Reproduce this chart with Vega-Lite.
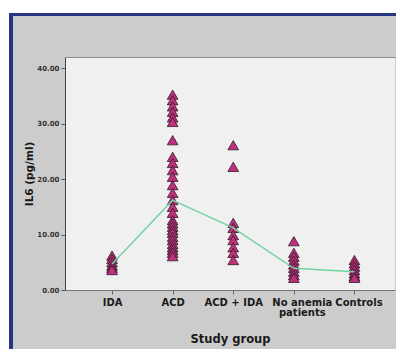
{
  "$schema": "https://vega.github.io/schema/vega-lite/v6.json",
  "background": "#cccccc",
  "padding": 0,
  "spacing": 0,
  "config": {
    "view": {"stroke": null},
    "font": "DejaVu Sans"
  },
  "datasets": {
    "points": [
      {"group": "IDA", "il6": 6.2}, {"group": "IDA", "il6": 5.6}, {"group": "IDA", "il6": 5.0}, {"group": "IDA", "il6": 4.4}, {"group": "IDA", "il6": 4.0}, {"group": "IDA", "il6": 3.6},
      {"group": "ACD", "il6": 35.2}, {"group": "ACD", "il6": 34.2}, {"group": "ACD", "il6": 33.1}, {"group": "ACD", "il6": 32.1}, {"group": "ACD", "il6": 31.1}, {"group": "ACD", "il6": 30.3},
      {"group": "ACD", "il6": 27.0}, {"group": "ACD", "il6": 24.0}, {"group": "ACD", "il6": 22.9}, {"group": "ACD", "il6": 21.6}, {"group": "ACD", "il6": 20.4}, {"group": "ACD", "il6": 18.9},
      {"group": "ACD", "il6": 17.5}, {"group": "ACD", "il6": 16.2}, {"group": "ACD", "il6": 15.0}, {"group": "ACD", "il6": 13.9}, {"group": "ACD", "il6": 12.6}, {"group": "ACD", "il6": 12.0},
      {"group": "ACD", "il6": 11.4}, {"group": "ACD", "il6": 10.8}, {"group": "ACD", "il6": 10.3}, {"group": "ACD", "il6": 9.6}, {"group": "ACD", "il6": 9.0}, {"group": "ACD", "il6": 8.3},
      {"group": "ACD", "il6": 7.7}, {"group": "ACD", "il6": 7.2}, {"group": "ACD", "il6": 6.7}, {"group": "ACD", "il6": 6.1},
      {"group": "ACD + IDA", "il6": 26.1}, {"group": "ACD + IDA", "il6": 22.2}, {"group": "ACD + IDA", "il6": 12.1}, {"group": "ACD + IDA", "il6": 11.2}, {"group": "ACD + IDA", "il6": 9.9},
      {"group": "ACD + IDA", "il6": 9.0}, {"group": "ACD + IDA", "il6": 7.7}, {"group": "ACD + IDA", "il6": 6.7}, {"group": "ACD + IDA", "il6": 5.4},
      {"group": "No anemia patients", "il6": 8.8}, {"group": "No anemia patients", "il6": 6.7}, {"group": "No anemia patients", "il6": 6.0}, {"group": "No anemia patients", "il6": 5.3},
      {"group": "No anemia patients", "il6": 4.6}, {"group": "No anemia patients", "il6": 4.0}, {"group": "No anemia patients", "il6": 3.3}, {"group": "No anemia patients", "il6": 2.7},
      {"group": "No anemia patients", "il6": 2.2},
      {"group": "Controls", "il6": 5.4}, {"group": "Controls", "il6": 4.8}, {"group": "Controls", "il6": 4.2}, {"group": "Controls", "il6": 3.6},
      {"group": "Controls", "il6": 3.0}, {"group": "Controls", "il6": 2.5}, {"group": "Controls", "il6": 2.2}
    ],
    "means": [
      {"group": "IDA", "il6": 4.7},
      {"group": "ACD", "il6": 16.2},
      {"group": "ACD + IDA", "il6": 11.2},
      {"group": "No anemia patients", "il6": 3.9},
      {"group": "Controls", "il6": 3.3}
    ]
  },
  "vconcat": [
    {"width": 396, "height": 13, "data": {"values": []}, "mark": "point", "view": {"fill": "white", "stroke": null}},
    {
      "spacing": 0,
      "hconcat": [
        {"width": 9, "height": 3, "data": {"values": []}, "mark": "point", "view": {"fill": "white", "stroke": null}},
        {"width": 387, "height": 3, "data": {"values": []}, "mark": "point", "view": {"fill": "#283583", "stroke": null}}
      ]
    },
    {
      "spacing": 0,
      "hconcat": [
        {"width": 9, "height": 333, "data": {"values": []}, "mark": "point", "view": {"fill": "white", "stroke": null}},
        {
          "spacing": 11,
          "hconcat": [
            {"width": 4, "height": 333, "data": {"values": []}, "mark": "point", "view": {"fill": "#283583", "stroke": null}},
            {
              "spacing": 40,
              "vconcat": [
                {"width": 1, "height": 1, "data": {"values": []}, "mark": "point", "view": {"stroke": null}},
                {
                  "width": 330,
                  "height": 233,
                  "view": {"fill": "#f0f0f0", "stroke": null},
                  "resolve": {"axis": {"x": "independent"}},
                  "layer": [
                    {
                      "data": {"name": "points"},
                      "mark": {"type": "point", "shape": "triangle-up", "filled": true, "fill": "#c0307c", "stroke": "#2d1a28", "strokeWidth": 0.8, "size": 115, "opacity": 1},
                      "encoding": {
                        "x": {
                          "field": "group", "type": "nominal",
                          "sort": ["IDA", "ACD", "ACD + IDA", "No anemia patients", "Controls"],
                          "scale": {"type": "point", "padding": 0.7228, "align": 0.537},
                          "axis": {
                            "title": "Study group",
                            "labelAngle": 0,
                            "labelOverlap": false,
                            "labelExpr": "datum.value == 'No anemia patients' ? ['No anemia', 'patients'] : datum.value",
                            "labelOffset": {"condition": [{"test": "datum.value == 'No anemia patients'", "value": 8}, {"test": "datum.value == 'Controls'", "value": 4}], "value": 0},
                            "labelFont": "DejaVu Sans", "labelFontWeight": "bold", "labelFontSize": 10, "labelColor": "#1a1a1a", "labelLineHeight": 10.5,
                            "labelPadding": 3, "tickSize": 4, "tickColor": "#666666", "domainColor": "#777777",
                            "titleFont": "DejaVu Sans", "titleFontSize": 11.5, "titleFontWeight": "bold", "titleColor": "#1a1a1a", "titlePadding": 16
                          }
                        },
                        "y": {
                          "field": "il6", "type": "quantitative",
                          "scale": {"domain": [0, 42], "nice": false},
                          "axis": {
                            "title": "IL6 (pg/ml)",
                            "values": [0, 10, 20, 30, 40],
                            "format": ".2f",
                            "grid": false,
                            "labelFont": "DejaVu Sans", "labelFontSize": 7, "labelFontWeight": "bold", "labelColor": "#333333",
                            "tickSize": 4, "labelPadding": 2, "tickColor": "#555555", "domainColor": "#444444",
                            "minExtent": 25, "maxExtent": 25,
                            "titleFont": "DejaVu Sans", "titleFontSize": 10.5, "titleFontWeight": "bold", "titleColor": "#1a1a1a", "titlePadding": 6
                          }
                        }
                      }
                    },
                    {
                      "data": {"name": "means"},
                      "mark": {"type": "line", "color": "#74d3a3", "strokeWidth": 1.5},
                      "encoding": {
                        "x": {
                          "field": "group", "type": "nominal",
                          "sort": ["IDA", "ACD", "ACD + IDA", "No anemia patients", "Controls"],
                          "axis": {"orient": "top", "labels": false, "ticks": false, "title": null, "domainColor": "#8a8a8a"}
                        },
                        "y": {"field": "il6", "type": "quantitative"}
                      }
                    }
                  ]
                }
              ]
            }
          ]
        }
      ]
    }
  ]
}
